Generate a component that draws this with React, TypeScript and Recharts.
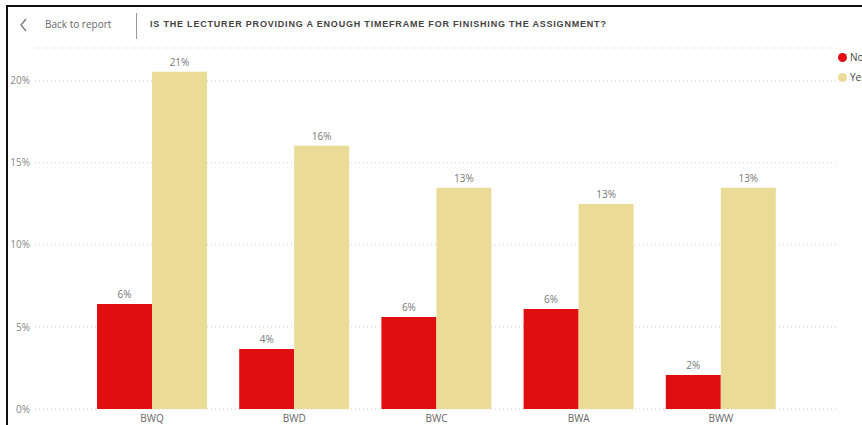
import React from "react";
import { BarChart, Bar, XAxis, YAxis, CartesianGrid, LabelList } from "recharts";

const categories = ["BWQ", "BWD", "BWC", "BWA", "BWW"];
const noValues = [6.4, 3.66, 5.61, 6.1, 2.07];
const yesValues = [20.55, 16.04, 13.48, 12.5, 13.48];
const yTicks = [0, 5, 10, 15, 20];
const seriesNames = ["No", "Yes"];
const title = "IS THE LECTURER PROVIDING A ENOUGH TIMEFRAME FOR FINISHING THE ASSIGNMENT?";

const RED = "#E00E0E";
const YELLOW = "#EADC96";
const FONT = "'Open Sans', 'Noto Sans', sans-serif";

const data = categories.map((c, i) => ({ name: c, No: noValues[i], Yes: yesValues[i] }));

const XTick = (props: any) => {
  const { x, y, payload } = props;
  return (
    <text x={x} y={y + 13} textAnchor="middle" fill="#666" fontSize={10} fontFamily={FONT}>
      {payload.value}
    </text>
  );
};

const fmt = (v: any) => `${Math.round(Number(v))}%`;

export default function App() {
  return (
    <div style={{ position: "absolute", left: 0, top: 0, width: 862, height: 425, overflow: "hidden", background: "#fff", fontFamily: FONT }}>
      <div style={{ position: "absolute", left: 6, top: 5, width: 880, height: 440, borderLeft: "2px solid #111", borderTop: "2px solid #111" }} />
      <svg style={{ position: "absolute", left: 18, top: 17 }} width={12} height={16}>
        <polyline points="8,2 3,8 8,14" fill="none" stroke="#777" strokeWidth={1.3} />
      </svg>
      <div style={{ position: "absolute", left: 45, top: 17, fontSize: 10, color: "#666", whiteSpace: "nowrap", lineHeight: "14px" }}>Back to report</div>
      <div style={{ position: "absolute", left: 136, top: 13, width: 1, height: 26, background: "#999" }} />
      <div style={{ position: "absolute", left: 150, top: 18, fontSize: 9, fontWeight: 700, color: "#444", letterSpacing: 0.8, whiteSpace: "nowrap", lineHeight: "12px", fontFamily: "'Liberation Sans', Arial, sans-serif" }}>{title}</div>
      <div style={{ position: "absolute", left: 0, top: 0 }}>
        <BarChart width={862} height={425} data={data} margin={{ top: 48, right: 24, bottom: 0, left: 0 }} barCategoryGap={16} barGap={0}>
          <CartesianGrid vertical={false} stroke="#cfcfcf" strokeDasharray="1 3" />
          <XAxis dataKey="name" height={16} axisLine={false} tickLine={false} tickSize={0} tickMargin={0} tick={<XTick />} padding={{ left: 46, right: 46 }} interval={0} />
          <YAxis width={35} domain={[0, 22]} ticks={yTicks} axisLine={false} tickLine={false} tickSize={0} tickMargin={5} tickFormatter={(v: any) => `${v}%`} tick={{ fill: "#888", fontSize: 10, fontFamily: FONT }} />
          <Bar dataKey="No" name={seriesNames[0]} fill={RED} isAnimationActive={false}>
            <LabelList dataKey="No" position="top" offset={6} formatter={fmt} fill="#777" fontSize={10} fontFamily={FONT} />
          </Bar>
          <Bar dataKey="Yes" name={seriesNames[1]} fill={YELLOW} isAnimationActive={false}>
            <LabelList dataKey="Yes" position="top" offset={6} formatter={fmt} fill="#777" fontSize={10} fontFamily={FONT} />
          </Bar>
        </BarChart>
      </div>
      {seriesNames.map((s, i) => (
        <div key={s} style={{ position: "absolute", left: 838, top: 50 + i * 20, display: "flex", alignItems: "center", whiteSpace: "nowrap", fontSize: 10, color: "#444", lineHeight: "14px" }}>
          <span style={{ display: "inline-block", width: 9, height: 9, borderRadius: 5, background: i === 0 ? RED : YELLOW, marginRight: 3 }} />
          <span>{s}</span>
        </div>
      ))}
    </div>
  );
}
